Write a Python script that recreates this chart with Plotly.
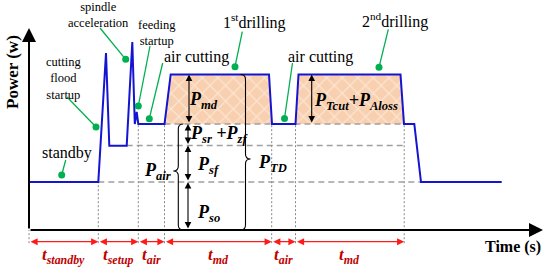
import plotly.graph_objects as go

# ---------------- data (schematic units: time, power) ----------------
phase_t = [0, 69.3, 109.3, 135.5, 242.7, 266.5, 375.2]
phase_labels = ["standby", "setup", "air", "md", "air", "md"]

P_so_level = 48.0     # standby power
P_sf_level = 84.5     # standby + spindle-free
P_air_level = 106.0   # air cutting power
P_md_level = 155.5    # drilling power

curve_t = [0, 69.3, 77, 80.3, 97.7, 103.3, 105.8, 107.7, 109.3, 135.5, 141.7,
           240, 243, 266.5, 269.5, 371.5, 375, 385.3, 392, 472.7]
curve_p = [48, 48, 177, 84.3, 84.3, 188, 106, 118, 106, 106, 155.5,
           155.5, 106, 106, 155.5, 155.5, 106, 106, 48, 48]
drill_segments = [(9, 12), (13, 16)]

# event annotations: text, text x, text y, font size, line start, dot
event_text = ["cutting<br>flood<br>startup", "spindle<br>acceleration", "feeding<br>startup",
              "air cutting", "1<sup>st</sup>drilling", "air cutting", "2<sup>nd</sup>drilling", "standby"]
event_tx = [34, 69, 128, 167, 225.5, 291, 366, 37.7]
event_ty = [152, 215.5, 197.5, 173, 209, 173, 210, 76.7]
event_size = [12.5, 12.5, 12.5, 16, 16, 16, 16, 16]
event_lx = [38, 71, 121, 133.7, 213.3, 263.5, 359.3, 36.7]
event_ly = [133, 202, 184, 167, 198.3, 167, 200.7, 70]
event_dx = [67, 96.7, 109.3, 120.3, 206, 255.5, 350, 32.7]
event_dy = [103, 170.7, 124, 111.3, 163.3, 111.5, 162.7, 55]

# ---------------- styling ----------------
SERIF = "Liberation Serif"
BLUE = "#1414D2"
GREEN = "#00B050"
RED = "#FF1A1A"
DRED = "#C00000"
GRAY = "#A0A0A0"

fig = go.Figure()

# hatched fills for drilling phases
for i0, i1 in drill_segments:
    fig.add_trace(go.Scatter(
        x=curve_t[i0:i1 + 1], y=curve_p[i0:i1 + 1], mode="lines", fill="toself",
        fillcolor="#F8D0B0",
        fillpattern=dict(shape="x", fgcolor="white", bgcolor="#F8D0B0", size=11, solidity=0.2),
        line=dict(width=0), hoverinfo="skip"))

# dashed power levels
dash_levels = [(P_air_level, phase_t[3], phase_t[6]),
               (P_sf_level, curve_t[4], phase_t[6] + 1),
               (P_so_level, phase_t[1], curve_t[18])]
for lvl, xa, xb in dash_levels:
    fig.add_trace(go.Scatter(x=[xa, xb], y=[lvl, lvl], mode="lines",
                             line=dict(color=GRAY, width=1.5, dash="6px,4px"), hoverinfo="skip"))

# dotted phase boundaries
arrow_y = -11.7
tops = [0, P_so_level, P_air_level, P_air_level, P_air_level, P_air_level, P_air_level]
for t, top in zip(phase_t, tops):
    fig.add_trace(go.Scatter(x=[t, t], y=[arrow_y - 1.5, top], mode="lines",
                             line=dict(color="#888888", width=1, dash="2px,2px"), hoverinfo="skip"))

# power curve
fig.add_trace(go.Scatter(x=curve_t, y=curve_p, mode="lines",
                         line=dict(color=BLUE, width=2), hoverinfo="skip"))

# event leader lines + dots
for lx, ly, dx, dy in zip(event_lx, event_ly, event_dx, event_dy):
    fig.add_trace(go.Scatter(x=[lx, dx], y=[ly, dy], mode="lines",
                             line=dict(color=GREEN, width=1.3), hoverinfo="skip"))
fig.add_trace(go.Scatter(x=event_dx, y=event_dy, mode="markers",
                         marker=dict(color=GREEN, size=7), hoverinfo="skip"))

annotations = []
for txt, tx, ty, sz in zip(event_text, event_tx, event_ty, event_size):
    annotations.append(dict(x=tx, y=ty, text=txt, showarrow=False,
                            font=dict(family=SERIF, size=sz, color="black")))


def darrow(x0, y0, x1, y1, color="black", width=1.1, size=1.2):
    return dict(x=x1, y=y1, ax=x0, ay=y0, xref="x", yref="y", axref="x", ayref="y",
                text="", showarrow=True, arrowhead=2, arrowside="end+start",
                arrowsize=size, arrowwidth=width, arrowcolor=color, standoff=0, startstandoff=0)


# axes
for (x0, y0, x1, y1) in [(0, 0, 0, 202), (0, 0, 514, 0)]:
    annotations.append(dict(x=x1, y=y1, ax=x0, ay=y0, xref="x", yref="y", axref="x", ayref="y",
                            text="", showarrow=True, arrowhead=2, arrowsize=1.4,
                            arrowwidth=2, arrowcolor="black", standoff=0))
annotations.append(dict(x=-17, y=158, text="<b>Power (w)</b>", textangle=-90, showarrow=False,
                        font=dict(family=SERIF, size=17, color="black")))
annotations.append(dict(x=484, y=-17, text="<b>Time (s)</b>", showarrow=False,
                        font=dict(family=SERIF, size=16, color="black")))

# time phase arrows and labels
for i, lab in enumerate(phase_labels):
    a, b = phase_t[i], phase_t[i + 1]
    annotations.append(darrow(a, arrow_y, b, arrow_y, color=RED, width=1.3, size=1.1))
    annotations.append(dict(x=(a + b) / 2, y=-26, showarrow=False,
                            text=f"<b><i>t<sub>{lab}</sub></i></b>",
                            font=dict(family=SERIF, size=17, color=DRED)))

# power component arrows
x_stack = 159
for y0, y1 in [(0, P_so_level), (P_so_level, P_sf_level), (P_sf_level, P_air_level)]:
    annotations.append(darrow(x_stack, y0, x_stack, y1))
annotations.append(darrow(160, P_air_level, 160, P_md_level))
annotations.append(darrow(282.7, P_air_level, 282.7, P_md_level))

p_text = ["P<sub>md</sub>", "P<sub>Tcut</sub>+P<sub>Aloss</sub>", "P<sub>sr</sub> +P<sub>zf</sub>",
          "P<sub>sf</sub>", "P<sub>so</sub>", "P<sub>air</sub>", "P<sub>TD</sub>"]
p_x = [174, 327, 190, 179, 179, 128.5, 243.5]
p_y = [130, 129, 96, 65, 17, 59, 67]
for txt, px, py in zip(p_text, p_x, p_y):
    annotations.append(dict(x=px, y=py, text=f"<b><i>{txt}</i></b>", showarrow=False,
                            font=dict(family=SERIF, size=18, color="black")))


def brace(x, y0, y1, ym, s, r=5):
    # s=+1: tip to the right "}", s=-1: tip to the left "{"
    return (f"M {x - s*r},{y1} Q {x},{y1} {x},{y1 - r} L {x},{ym + r} "
            f"Q {x},{ym} {x + s*r},{ym} Q {x},{ym} {x},{ym - r} L {x},{y0 + r} "
            f"Q {x},{y0} {x - s*r},{y0}")


shapes = [
    dict(type="path", path=brace(216.5, 0, P_md_level, 71, +1, 5), xref="x", yref="y",
         line=dict(color="black", width=1.1)),
    dict(type="path", path=brace(149.3, 0, P_air_level, 59, -1, 5), xref="x", yref="y",
         line=dict(color="black", width=1.1)),
]

fig.update_layout(
    width=550, height=267, margin=dict(l=0, r=0, t=0, b=0),
    paper_bgcolor="white", plot_bgcolor="white", showlegend=False,
    font=dict(family=SERIF),
    xaxis=dict(range=[-29, 521], visible=False, fixedrange=True),
    yaxis=dict(range=[-37, 230], visible=False, fixedrange=True),
    annotations=annotations, shapes=shapes,
)

fig.write_html("out.html", config={"displayModeBar": False},
               post_script="document.body.style.margin='0';")
